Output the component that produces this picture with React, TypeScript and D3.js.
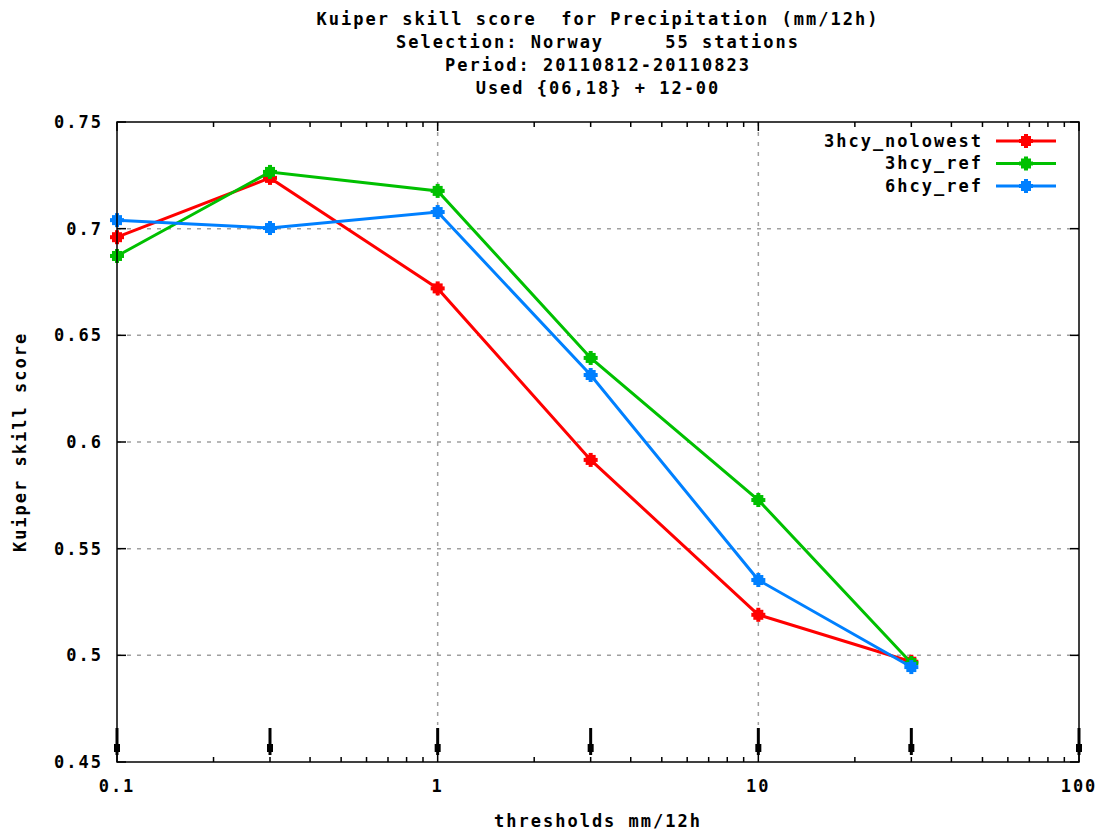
import React from "react";
import * as d3 from "d3";

const thresholds = [0.1, 0.3, 1, 3, 10, 30];
const seriesNames = ["3hcy_nolowest", "3hcy_ref", "6hcy_ref"];
const seriesColors = ["#ff0000", "#00c000", "#0080ff"];
const nolowest = [0.696, 0.7238, 0.672, 0.5916, 0.519, 0.497];
const ref3 = [0.6872, 0.7266, 0.7177, 0.6394, 0.5728, 0.4964];
const ref6 = [0.704, 0.7003, 0.7078, 0.6314, 0.5353, 0.4945];
const yTicks = [0.45, 0.5, 0.55, 0.6, 0.65, 0.7, 0.75];
const yTickLabels = ["0.45", "0.5", "0.55", "0.6", "0.65", "0.7", "0.75"];
const xTicks = [0.1, 1, 10, 100];
const xTickLabels = ["0.1", "1", "10", "100"];
const arrowXs = [0.1, 0.3, 1, 3, 10, 30, 100];
const titleLines = [
  "Kuiper skill score  for Precipitation (mm/12h)",
  "Selection: Norway     55 stations",
  "Period: 20110812-20110823",
  "Used {06,18} + 12-00",
];

const W = 1111, H = 835;
const L = 117, R = 1079, T = 122, B = 762;
const font = "'DejaVu Sans Mono', 'Liberation Mono', monospace";
const fs = 17;
const ls = 2;

export default function App() {
  const x = d3.scaleLog().domain([0.1, 100]).range([L, R]);
  const y = d3.scaleLinear().domain([0.45, 0.75]).range([B, T]);
  const series = [nolowest, ref3, ref6];
  const line = d3
    .line<[number, number]>()
    .x((d) => x(d[0]))
    .y((d) => y(d[1]));

  const minor: number[] = [];
  [0.1, 1, 10].forEach((dec) => {
    for (let k = 2; k <= 9; k++) minor.push(dec * k);
  });

  const textStyle: React.CSSProperties = {
    fontFamily: font,
    fontSize: fs,
    fontWeight: "bold",
    letterSpacing: ls,
  };

  const marker = (cx: number, cy: number, color: string, key: string) => (
    <g key={key}>
      <rect x={cx - 5} y={cy - 5} width={10} height={10} fill={color} />
      <rect x={cx - 2} y={cy - 7} width={4} height={14} fill={color} />
      <rect x={cx - 7} y={cy - 2} width={14} height={4} fill={color} />
    </g>
  );

  return (
    <svg width={W} height={H} style={{ position: "absolute", left: 0, top: 0, background: "#fff" }}>
      <rect x={0} y={0} width={W} height={H} fill="#fff" />
      {/* grid */}
      {yTicks.slice(1, -1).map((t) => (
        <line key={"gy" + t} x1={L} x2={R} y1={y(t)} y2={y(t)} stroke="#a0a0a0" strokeWidth={1.5} strokeDasharray="4,6" />
      ))}
      {xTicks.slice(1, -1).map((t) => (
        <line key={"gx" + t} x1={x(t)} x2={x(t)} y1={T} y2={725} stroke="#a0a0a0" strokeWidth={1.5} strokeDasharray="4,6" />
      ))}
      {/* ticks */}
      {yTicks.map((t) => (
        <g key={"ty" + t}>
          <line x1={L} x2={L + 9} y1={y(t)} y2={y(t)} stroke="#000" strokeWidth={1.5} />
          <line x1={R} x2={R - 9} y1={y(t)} y2={y(t)} stroke="#000" strokeWidth={1.5} />
        </g>
      ))}
      {xTicks.map((t) => (
        <g key={"tx" + t}>
          <line x1={x(t)} x2={x(t)} y1={B} y2={B - 9} stroke="#000" strokeWidth={1.5} />
          <line x1={x(t)} x2={x(t)} y1={T} y2={T + 9} stroke="#000" strokeWidth={1.5} />
        </g>
      ))}
      {minor.map((t) => (
        <g key={"mx" + t}>
          <line x1={x(t)} x2={x(t)} y1={B} y2={B - 5} stroke="#000" strokeWidth={1.5} />
          <line x1={x(t)} x2={x(t)} y1={T} y2={T + 5} stroke="#000" strokeWidth={1.5} />
        </g>
      ))}
      {/* bottom arrows */}
      {arrowXs.map((t) => (
        <g key={"ar" + t}>
          <line x1={x(t)} x2={x(t)} y1={728} y2={755} stroke="#000" strokeWidth={3} />
          <rect x={x(t) - 3} y={744} width={6} height={8} fill="#000" />
        </g>
      ))}
      {/* series */}
      {series.map((vals, i) => {
        const pts = thresholds.map((t, j) => [t, vals[j]] as [number, number]);
        return (
          <g key={"s" + i}>
            <path d={line(pts) || ""} fill="none" stroke={seriesColors[i]} strokeWidth={3} />
            {pts.map((p, j) => marker(x(p[0]), y(p[1]), seriesColors[i], "m" + i + "_" + j))}
          </g>
        );
      })}
      {/* border */}
      <rect x={L} y={T} width={R - L} height={B - T} fill="none" stroke="#000" strokeWidth={1.5} />
      {/* y tick labels */}
      {yTicks.map((t, i) => (
        <text key={"yl" + t} x={103} y={y(t)} dy="0.35em" textAnchor="end" style={textStyle}>
          {yTickLabels[i]}
        </text>
      ))}
      {xTicks.map((t, i) => (
        <text key={"xl" + t} x={x(t)} y={792} textAnchor="middle" style={textStyle}>
          {xTickLabels[i]}
        </text>
      ))}
      {/* titles */}
      {titleLines.map((s, i) => (
        <text key={"t" + i} x={598} y={25 + i * 23} textAnchor="middle" style={{ ...textStyle, whiteSpace: "pre" }} xmlSpace="preserve">
          {s}
        </text>
      ))}
      <text x={598} y={827} textAnchor="middle" style={textStyle}>
        thresholds mm/12h
      </text>
      <text transform={`translate(26,442) rotate(-90)`} textAnchor="middle" style={textStyle}>
        Kuiper skill score
      </text>
      {/* legend */}
      {seriesNames.map((n, i) => {
        const ly = 141 + i * 22.5;
        return (
          <g key={"lg" + i}>
            <text x={983} y={ly} dy="0.35em" textAnchor="end" style={textStyle}>
              {n}
            </text>
            <line x1={996} x2={1056} y1={ly} y2={ly} stroke={seriesColors[i]} strokeWidth={3} />
            {marker(1026, ly, seriesColors[i], "lm" + i)}
          </g>
        );
      })}
    </svg>
  );
}
